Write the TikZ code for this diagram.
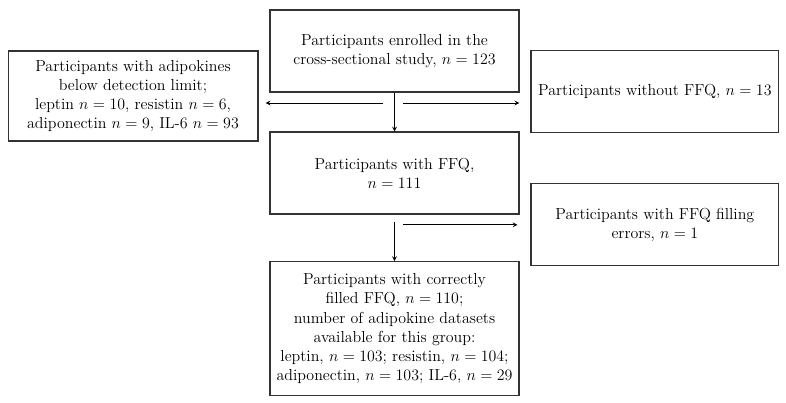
\documentclass[tikz,border=0pt]{standalone}
\usepackage{tikz}
\usetikzlibrary{arrows}

\begin{document}
\begin{tikzpicture}[>=stealth,thin,
    box node/.style={draw=black!80,line width=0.9pt,rectangle,align=center,inner sep=2pt,
        font=\fontsize{12pt}{14.5pt}\selectfont},
    flow/.style={->,line width=0.6pt}]
    \useasboundingbox (0,0) rectangle (20.80,-10.64);

    \node[box node,minimum width=6.59cm,minimum height=2.17cm] (enrolled) at (10.44,-1.35)
        {Participants enrolled in the\\cross-sectional study, $n = 123$};
    \node[box node,minimum width=6.61cm,minimum height=2.38cm] (belowlimit) at (3.52,-2.54)
        {Participants with adipokines\\below detection limit;\\leptin $n = 10$, resistin $n = 6$,\\adiponectin $n = 9$, IL-6 $n = 93$};
    \node[box node,minimum width=6.56cm,minimum height=2.17cm] (noffq) at (17.33,-2.43)
        {Participants without FFQ, $n = 13$};
    \node[box node,minimum width=6.59cm,minimum height=2.17cm] (withffq) at (10.44,-4.58)
        {Participants with FFQ,\\$n = 111$};
    \node[box node,minimum width=6.56cm,minimum height=2.17cm] (errors) at (17.33,-5.95)
        {Participants with FFQ filling\\errors, $n = 1$};
    \node[box node,minimum width=6.59cm,minimum height=3.55cm] (correct) at (10.44,-8.70)
        {Participants with correctly\\filled FFQ, $n = 110$;\\number of adipokine datasets\\available for this group:\\leptin, $n = 103$; resistin, $n = 104$;\\adiponectin, $n = 103$; IL-6, $n = 29$};

    \coordinate (split1) at (10.13,-2.725);
    \coordinate (split2) at (10.66,-2.725);
    \coordinate (split3) at (10.66,-5.95);

    \draw[flow] (enrolled) -- (withffq);
    \draw[flow,shorten >=0.19cm] (split1) -- (belowlimit.east |- split1);
    \draw[flow,shorten >=0.29cm] (split2) -- (noffq.west |- split2);
    \draw[flow,shorten <=0.19cm] (withffq) -- (correct);
    \draw[flow,shorten >=0.34cm] (split3) -- (errors.west |- split3);
\end{tikzpicture}
\end{document}
